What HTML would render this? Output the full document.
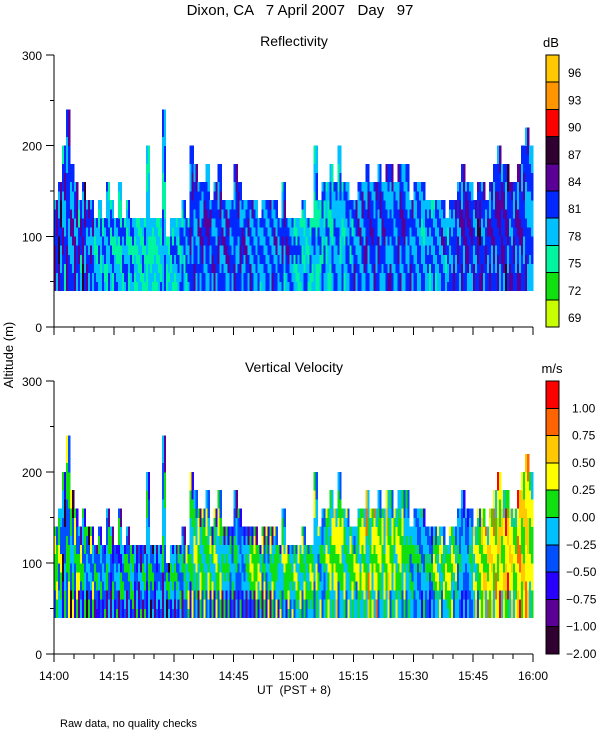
<!DOCTYPE html>
<html><head><meta charset="utf-8"><style>
html,body{margin:0;padding:0;background:#fff;}
svg{display:block;font-family:"Liberation Sans",sans-serif;}
</style></head><body>
<svg id="chart" width="600" height="750" viewBox="0 0 600 750">
<text x="300" y="15" font-size="15" text-anchor="middle" xml:space="preserve">Dixon, CA   7 April 2007   Day   97</text>
<text x="294" y="46" font-size="14" text-anchor="middle">Reflectivity</text>
<text x="294" y="372" font-size="14" text-anchor="middle">Vertical Velocity</text>
<text x="551" y="47" font-size="13" text-anchor="middle">dB</text>
<text x="552" y="373" font-size="13" text-anchor="middle">m/s</text>
<text transform="translate(13,355) rotate(-90)" font-size="13" text-anchor="middle">Altitude (m)</text>
<text x="294" y="694" font-size="12" text-anchor="middle" xml:space="preserve">UT  (PST + 8)</text>
<text x="60" y="727" font-size="11">Raw data, no quality checks</text>
<g id="layer"></g>
</svg>
<script>
const minutes = 120;
const tops = [140,160,200,240,180,160,140,160,140,140,
120,140,120,160,140,120,160,120,140,120,
120,120,120,200,120,120,120,240,100,120,
120,120,140,120,200,180,160,160,180,140,
160,180,140,140,140,180,160,140,140,140,
140,120,140,140,140,140,120,160,120,120,
120,120,140,120,120,200,140,160,160,180,
160,200,160,160,140,140,160,160,180,160,
160,180,160,180,180,160,180,180,180,140,
160,160,160,140,140,140,140,140,120,140,
140,160,180,160,160,140,160,160,140,160,
180,200,180,180,160,160,180,200,220,200];
const reflCodes = ("55443 56434 45342 54434 43534 55343 45423 65434 54343 45343 "+
"43234 34323 43423 23434 34242 43234 32423 24343 43232 34243 "+
"23232 32323 24232 23323 32232 23232 32324 34234 22323 32432 "+
"23432 34234 43423 24343 45434 54343 43543 45434 34543 43453 "+
"54343 45434 43534 35453 44343 54434 43454 34534 45343 53434 "+
"34343 43432 34343 43434 34345 43534 34343 45432 34543 43434 "+
"32423 23432 32324 43232 24323 34232 23423 42343 32432 23243 "+
"43434 34323 43232 34343 42434 54343 43534 34353 45434 34543 "+
"54434 45343 34543 43435 53434 34343 45435 34543 43434 54343 "+
"43434 34343 43234 34343 24343 43432 34343 43534 32434 43434 "+
"54434 45343 54534 45453 34543 53434 45645 54343 45434 54534 "+
"45434 54543 45453 64534 54345 45434 54535 45434 54343 34343").split(" ");
const velCodes = ("35565 43654 20345 35356 03456 23565 16534 25345 03435 24365 "+
"13532 24353 23435 15434 12354 23435 14253 25343 13534 25453 "+
"12345 21435 14535 23454 03534 12343 24343 15434 03534 24543 "+
"13543 24354 13543 35465 25456 34654 14565 35456 34564 25465 "+
"24656 35465 14545 24545 23453 14534 23435 24343 14543 25653 "+
"15565 24654 13565 23456 14565 35546 24456 34654 25565 34546 "+
"34654 45465 34565 35454 45654 34465 45346 34534 54656 46545 "+
"46567 35654 45465 34546 45565 45634 56454 46565 45487 56546 "+
"46568 35654 44565 45676 36545 46456 45654 34565 34545 45354 "+
"34543 43534 24345 34543 23534 35654 46456 34564 45654 56546 "+
"34654 43543 24434 23434 34543 46467 35656 56576 47568 56767 "+
"45686 65769 46576 57695 46767 45656 76869 57576 86767 46565").split(" ");
const reflColors = ["#c8ff00","#10e010","#00f5a0","#00c0ff","#0028ff","#5a0096","#300030","#ff0000","#ff9600","#ffc800"];
const reflLabels = ["69","72","75","78","81","84","87","90","93","96"];
const velColors = ["#300030","#5a0096","#2800ff","#0050ff","#00c0ff","#10e010","#ffff00","#ffc800","#ff6400","#ff0000"];
const velLabels = ["-2.00","-1.00","-0.75","-0.50","-0.25","0.00","0.25","0.50","0.75","1.00"];
const xTickLabels = ["14:00","14:15","14:30","14:45","15:00","15:15","15:30","15:45","16:00"];
const yTickLabels = ["0","100","200","300"];
const altMin = 40, binSize = 10;

const NS = "http://www.w3.org/2000/svg";
const layer = document.getElementById("layer");
function mk(tag, attrs, parent){const e=document.createElementNS(NS,tag);for(const k in attrs)e.setAttribute(k,attrs[k]);(parent||layer).appendChild(e);return e;}

const X0=54, X1=533;
function xs(m){return X0+(m/minutes)*(X1-X0);}

function panel(name, yTop, yBot, codes, colors, labels){
  const ys = a => yBot-(a/300)*(yBot-yTop);
  const g = mk("g",{});
  
  
  const cells = mk("g",{"shape-rendering":"crispEdges"},g);
  
  
  for(let m=0;m<minutes;m++){
    const nb = Math.round((tops[m]-altMin)/binSize);
    for(let half=0;half<2;half++){
      let code = codes[m]; if(half) code = code.split("").reverse().join("");
      const x0 = xs(m+half*0.5), x1 = xs(m+half*0.5+0.5);
      for(let b=0;b<nb;b++){
        const idx = Math.min(code.length-1, Math.floor((b+half)*code.length/(nb+1)));
        const v = +code[idx];
        const a0 = altMin+b*binSize, a1 = a0+binSize;
        const r = mk("rect",{x:x0.toFixed(2),y:ys(a1).toFixed(2),width:(x1-x0+0.3).toFixed(2),height:(ys(a0)-ys(a1)+0.3).toFixed(2),fill:colors[v]},cells);
        
        
      }
    }
  }
  const ax = mk("g",{stroke:"#000","stroke-width":1,"shape-rendering":"crispEdges"},g);
  
  
  mk("line",{x1:X0,y1:yTop,x2:X0,y2:yBot},ax);
  mk("line",{x1:X0,y1:yBot,x2:X1,y2:yBot},ax);
  for(let a=0;a<=300;a+=50){
    const major = a%100===0;
    mk("line",{x1:X0-(major?8:4),y1:ys(a),x2:X0,y2:ys(a)},ax);
  }
  yTickLabels.forEach((t,i)=>{
    const tx = mk("text",{x:X0-12,y:ys(+t)+5,"font-size":12,"text-anchor":"end"},g);
    tx.textContent=t;
    
    
  });
  for(let m=0;m<=minutes;m+=5){
    const major = m%15===0;
    mk("line",{x1:xs(m),y1:yBot,x2:xs(m),y2:yBot+(major?8:5)},ax);
  }
  const cb = mk("g",{"shape-rendering":"crispEdges"},g);
  
  
  const bh=(yBot-yTop)/colors.length;
  colors.forEach((c,i)=>{
    const yb = yBot-i*bh;
    mk("rect",{x:546,y:yb-bh,width:13,height:bh,fill:c,stroke:"#000","stroke-width":1},cb);
    const tx = mk("text",{x:568,y:yb-5,"font-size":12},cb);
    tx.textContent = name==="velocity" ? labels[i].replace("-","\u2212") : labels[i];
    if(name==="velocity"){ tx.setAttribute("x", labels[i][0]==="-"?566:572); tx.setAttribute("y", yb+4); }
    
    
  });
  return ys;
}
panel("reflectivity",55,327,reflCodes,reflColors,reflLabels);
panel("velocity",381,654,velCodes,velColors,velLabels);
xTickLabels.forEach((t,i)=>{
  const tx = mk("text",{x:xs(i*15),y:680,"font-size":12,"text-anchor":"middle"});
  tx.textContent=t;
  
  
});
</script>
</body></html>
